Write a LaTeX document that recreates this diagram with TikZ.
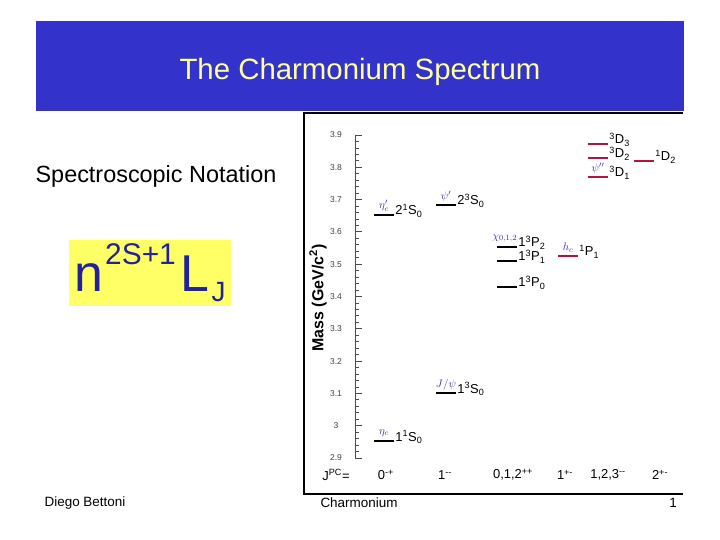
\documentclass[tikz,border=0pt]{standalone}
\usepackage{fontspec}
\setmainfont{Liberation Sans}
\usepackage{tikz}
\usetikzlibrary{positioning}
\definecolor{titleblue}{HTML}{3333CC}
\definecolor{titleyellow}{HTML}{FFFF99}
\definecolor{notationyellow}{HTML}{FFFF66}
\definecolor{notationblue}{HTML}{22229A}
\definecolor{levelred}{HTML}{B8123A}
\definecolor{namecolor}{HTML}{3030A8}

\begin{document}
\begin{tikzpicture}[
    x=1bp, y=-1bp,
    every node/.style={inner sep=0pt},
    titlebar/.style={fill=titleblue, minimum width=648bp, minimum height=90bp},
    titletext/.style={text=titleyellow, font=\fontsize{29.5}{32}\selectfont},
    bigtext/.style={font=\fontsize{23.5}{26}\selectfont},
    notation/.style={fill=notationyellow, text=notationblue, minimum width=162bp, minimum height=66bp, font=\fontsize{52}{56}\selectfont},
    footer/.style={font=\fontsize{13.5}{15}\selectfont},
    ticklabel/.style={text=black!75, font=\fontsize{8.5}{9}\selectfont},
    axislabel/.style={rotate=90, font=\bfseries\fontsize{16}{18}\selectfont},
    statelabel/.style={font=\fontsize{13}{15}\selectfont},
    namelabel/.style={text=namecolor, font=\fontsize{11}{13}\selectfont},
    jpclabel/.style={font=\fontsize{13}{15}\selectfont},
    blackbar/.style={fill=black, minimum width=20bp, minimum height=2.6bp},
    redbar/.style={fill=levelred, minimum width=20bp, minimum height=2.6bp},
    tick/.style={black!70, line width=0.8bp},
]
\useasboundingbox (0,0) rectangle (720,540);

% ---- Title ----
\node[titlebar] (titlebar) at (360,66) {};
\node[titletext] (title) at ([yshift=-6bp]titlebar.center) {The Charmonium Spectrum};

% ---- Left: notation ----
\node[bigtext] (spectro) at (156,176) {Spectroscopic Notation};
\node[notation] (nlj) at (150,273) {n\kern2bp\raisebox{0.52em}{\fontsize{30}{30}\selectfont 2S+1}\kern5bp L\kern2bp\raisebox{-0.2em}{\fontsize{28}{28}\selectfont J}};

% ---- Chart frame ----
\draw[line width=1.2bp] (683,113) -- (304,113) -- (304,494) -- (683,494);

% ---- Mass axis ----
\draw[tick] (355,135) -- (355,458);
\foreach \i in {0,...,50}
  \draw[tick] (355,135+\i*6.46) -- ++(4,0);
\foreach \m [count=\k from 0] in {3.9,3.8,3.7,3.6,3.5,3.4,3.3,3.2,3.1,3,2.9} {
  \draw[tick] (355,135+\k*32.3) -- ++(7,0);
  \node[ticklabel] (mass\k) at (336,135+\k*32.3) {\m};
}
\node[axislabel] (masslabel) at (318,298) {Mass (GeV/c\textsuperscript{2})};

% ---- S-wave levels ----
\node[blackbar] (etac) at (384,441) {};
\node[statelabel, base right=1bp of etac] (etacstate) {1\textsuperscript{1}S\textsubscript{0}};
\node[namelabel, above=3bp of etac] (etacname) {$\eta_c$};

\node[blackbar] (jpsi) at (446,393) {};
\node[statelabel, base right=1bp of jpsi] (jpsistate) {1\textsuperscript{3}S\textsubscript{0}};
\node[namelabel, above=1bp of jpsi] (jpsiname) {$J/\psi$};

\node[blackbar] (etacp) at (384,215) {};
\node[statelabel, base right=1bp of etacp] (etacpstate) {2\textsuperscript{1}S\textsubscript{0}};
\node[namelabel, above=2bp of etacp] (etacpname) {$\eta_c'$};

\node[blackbar] (psip) at (446,205) {};
\node[statelabel, base right=1bp of psip] (psipstate) {2\textsuperscript{3}S\textsubscript{0}};
\node[namelabel, above=2bp of psip] (psipname) {$\psi'$};

% ---- P-wave levels ----
\node[blackbar] (chi2) at (507,247) {};
\node[blackbar] (chi1) at (507,261) {};
\node[blackbar] (chi0) at (507,287) {};
\node[statelabel, base right=1bp of chi2] (chi2state) {1\textsuperscript{3}P\textsubscript{2}};
\node[statelabel, base right=1bp of chi1] (chi1state) {1\textsuperscript{3}P\textsubscript{1}};
\node[statelabel, base right=1bp of chi0] (chi0state) {1\textsuperscript{3}P\textsubscript{0}};
\node[namelabel, anchor=south east] (chiname) at ([yshift=3bp]chi2.north east) {$\chi_{0,1,2}$};

\node[redbar] (hc) at (568,256) {};
\node[statelabel, base right=1bp of hc] (hcstate) {\textsuperscript{1}P\textsubscript{1}};
\node[namelabel, above=2bp of hc] (hcname) {$h_c$};

% ---- D-wave levels ----
\node[redbar] (d3) at (598,144) {};
\node[redbar] (d2) at (598,158) {};
\node[redbar] (d1) at (598,177) {};
\node[statelabel, base right=1bp of d3] (d3state) {\textsuperscript{3}D\textsubscript{3}};
\node[statelabel, base right=1bp of d2] (d2state) {\textsuperscript{3}D\textsubscript{2}};
\node[statelabel, base right=1bp of d1] (d1state) {\textsuperscript{3}D\textsubscript{1}};
\node[namelabel, above=2bp of d1] (psippname) {$\psi''$};

\node[redbar] (singletd) at (644,161) {};
\node[statelabel, base right=1bp of singletd] (singletdstate) {\textsuperscript{1}D\textsubscript{2}};

% ---- J^PC row ----
\node[jpclabel] (jpc) at (336,475) {J\textsuperscript{PC}=};
\node[jpclabel] (jpcetac) at (386,475) {0\textsuperscript{-+}};
\node[jpclabel] (jpcpsi) at (445,475) {1\textsuperscript{-{}-}};
\node[jpclabel] (jpcchi) at (513,475) {0,1,2\textsuperscript{++}};
\node[jpclabel] (jpchc) at (565,475) {1\textsuperscript{+-}};
\node[jpclabel] (jpcd) at (608,475) {1,2,3\textsuperscript{-{}-}};
\node[jpclabel] (jpcsd) at (660,475) {2\textsuperscript{+-}};

% ---- Footer ----
\node[footer] (author) at (85,503) {Diego Bettoni};
\node[footer] (topic) at (359,503) {Charmonium};
\node[footer] (page) at (673,503) {1};

\end{tikzpicture}
\end{document}
